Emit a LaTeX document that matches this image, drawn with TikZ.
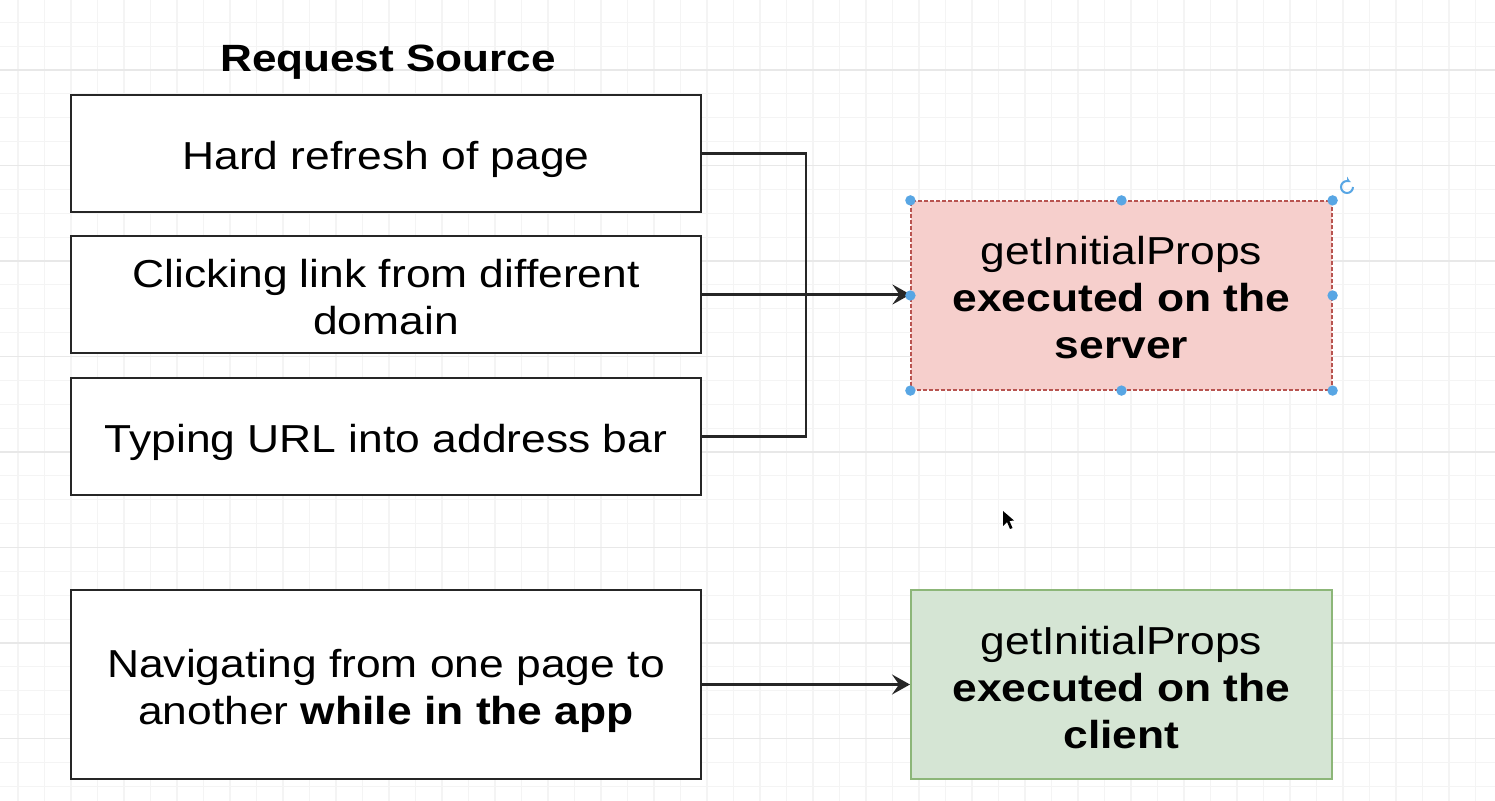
\documentclass[tikz,border=0pt]{standalone}
\usepackage{fontspec}
\setmainfont{Liberation Sans}[FakeStretch=1.138]
\newfontfamily\titlefont{Liberation Sans}[FakeStretch=1.16]
\usetikzlibrary{arrows.meta}
\definecolor{gridminor}{RGB}{244,244,244}
\definecolor{gridmajor}{RGB}{232,232,232}
\definecolor{redfill}{RGB}{246,207,204}
\definecolor{redline}{RGB}{184,84,80}
\definecolor{greenfill}{RGB}{213,229,212}
\definecolor{greenline}{RGB}{140,182,120}
\definecolor{handle}{RGB}{88,166,228}
\newcommand\txtlines[1]{\begin{tabular}[b]{@{}c@{}}#1\end{tabular}}
\tikzset{
  txt/.style={font=\fontsize{19.5}{23.5}\selectfont, inner sep=0pt, anchor=base},
  srcbox/.style={draw=black!85, line width=1.3pt, fill=white, minimum width=315pt, minimum height=58.5pt, inner sep=0pt},
  resbox/.style={minimum width=210.5pt, minimum height=94.5pt, inner sep=0pt},
  conn/.style={draw=black!85, line width=1.2pt},
  tip/.style={-{Stealth[length=9pt,width=10pt,inset=3.5pt]}},
  hdl/.style={fill=handle, draw=none},
}
\begin{document}
\begin{tikzpicture}[x=0.5pt,y=-0.5pt]
\useasboundingbox (0,0) rectangle (1495,801);
\fill[white] (0,0) rectangle (1495,801);
% grid
\begin{scope}
\clip (0,0) rectangle (1495,801);
\foreach \i in {0,...,56} {\draw[gridminor, line width=0.6pt] ({18+26.5*\i},0) -- ({18+26.5*\i},801);}
\foreach \j in {-3,...,31} {\draw[gridminor, line width=0.6pt] (0,{70+23.875*\j}) -- (1495,{70+23.875*\j});}
\foreach \j in {0,...,7} {\draw[gridmajor, line width=0.7pt] (0,{70+95.5*\j}) -- (1495,{70+95.5*\j});}
\end{scope}
% title
\node[inner sep=0pt, anchor=base, font=\titlefont\fontsize{19}{23}\selectfont\bfseries] (title) at (388,72) {Request Source};
% source boxes
\node[srcbox] (b1) at (386,153.5) {};
\node[srcbox] (b2) at (386,294.5) {};
\node[srcbox] (b3) at (386,436.5) {};
\node[srcbox, minimum height=94.5pt] (b4) at (386,684.5) {};
\node[txt] (t1) at (386,170) {\txtlines{Hard refresh of page}};
\node[txt] (t2) at (386,334.5) {\txtlines{Clicking link from different\\domain}};
\node[txt] (t3) at (386,453) {\txtlines{Typing URL into address bar}};
\node[txt] (t4) at (386,724.5) {\txtlines{Navigating from one page to\\another \textbf{while in the app}}};
% result boxes
\node[resbox, fill=redfill, draw=redline, line width=0.6pt, dash pattern=on 2pt off 1pt] (srv) at (1121.5,295.5) {};
\node[resbox, fill=greenfill, draw=greenline, line width=1pt] (cli) at (1121.5,685) {};
\node[txt] (t5) at (1121.5,359) {\txtlines{getInitialProps\\\textbf{executed on the}\\\textbf{server}}};
\node[txt] (t6) at (1121.5,748.5) {\txtlines{getInitialProps\\\textbf{executed on the}\\\textbf{client}}};
% connectors
\coordinate (bx) at (806,0);
\draw[conn] (b1.east) -- (b1.east -| bx) |- (b3.east);
\draw[conn, tip] (b2.east) -- (b2.east -| srv.west);
\draw[conn, tip] (b4.east) -- (b4.east -| cli.west);
% selection handles
\foreach \a in {north west, north, north east, west, east, south west, south, south east}
  {\fill[hdl] (srv.\a) circle (2.6pt);}
\draw[handle, line width=1pt, -{Stealth[length=2.5pt,width=3pt]}] (1353,187) arc[start angle=0, end angle=300, radius=6];
% mouse cursor
\fill[black] (1003,511) -- (1003,526) -- (1007,522) -- (1010,529) -- (1012.5,528) -- (1009.5,521) -- (1014,520.5) -- cycle;
\end{tikzpicture}
\end{document}
